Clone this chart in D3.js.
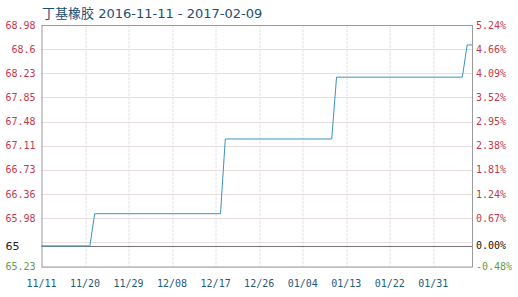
<!DOCTYPE html>
<html lang="zh">
<head>
<meta charset="UTF-8">
<title>丁基橡胶</title>
<script src="https://d3js.org/d3.v7.min.js"></script>
<style>
  body { margin: 0; background: #fff; }
  svg { display: block; }
  .tick-label { font-family: "DejaVu Sans Mono", monospace; font-size: 10px; }
</style>
</head>
<body>
<div id="chart"></div>
<script>
// price points (step changes)
const dates  = ["2016-11-11", "2016-11-21", "2016-11-22", "2016-12-18", "2016-12-19",
                "2017-01-10", "2017-01-11", "2017-02-06", "2017-02-07", "2017-02-08"];
const prices = [65.55, 65.55, 66.05, 66.05, 67.21, 67.21, 68.17, 68.17, 68.67, 68.67];

const base = 65.55;   // reference price (0.00%)
const leftTicks  = [65.23, 65.605, 65.98, 66.355, 66.73, 67.105, 67.48, 67.855, 68.23, 68.605, 68.98];
const leftLabels = ["65.23", "", "65.98", "66.36", "66.73", "67.11", "67.48", "67.85", "68.23", "68.6", "68.98"];
const rightLabels = ["-0.48%", "", "0.67%", "1.24%", "1.81%", "2.38%", "2.95%", "3.52%", "4.09%", "4.66%", "5.24%"];
const xTickDates = ["2016-11-11", "2016-11-20", "2016-11-29", "2016-12-08", "2016-12-17",
                    "2016-12-26", "2017-01-04", "2017-01-13", "2017-01-22", "2017-01-31"];
const title = "丁基橡胶 2016-11-11 - 2017-02-09";

const W = 518, H = 297;
const margin = {top: 25, right: 46, bottom: 30.5, left: 41.5};
const width = W - margin.left - margin.right,
      height = H - margin.top - margin.bottom;

const parse = d3.timeParse("%Y-%m-%d");
const fmt = d3.timeFormat("%m/%d");
const data = dates.map((d, i) => ({date: parse(d), price: prices[i]}));

const svg = d3.select("#chart").append("svg")
    .attr("width", W).attr("height", H);

svg.append("text")
    .attr("x", 42).attr("y", 18)
    .attr("fill", "#1d4f73")
    .style("font-family", "'DejaVu Sans', 'Noto Sans CJK SC', sans-serif")
    .style("font-size", "13px")
    .text(title);

const g = svg.append("g").attr("transform", `translate(${margin.left},${margin.top})`);

const x = d3.scaleTime()
    .domain([parse("2016-11-11"), parse("2017-02-08")])
    .range([0, width]);
const y = d3.scaleLinear().domain([65.23, 68.98]).range([height, 0]);

// horizontal grid
g.selectAll(".hgrid").data(leftTicks).join("line")
    .attr("x1", 0).attr("x2", width)
    .attr("y1", d => Math.round(y(d)) + 0.5).attr("y2", d => Math.round(y(d)) + 0.5)
    .attr("stroke", "#eadede").attr("stroke-width", 1);

// vertical grid
g.selectAll(".vgrid").data(xTickDates.slice(1)).join("line")
    .attr("x1", d => Math.round(x(parse(d))) + 0.5).attr("x2", d => Math.round(x(parse(d))) + 0.5)
    .attr("y1", 0).attr("y2", height)
    .attr("stroke", "#e2e2e2").attr("stroke-width", 1)
    .attr("stroke-dasharray", "3,1");

// frame
g.append("rect").attr("x", 0.5).attr("y", 0.5)
    .attr("width", width).attr("height", height)
    .attr("fill", "none").attr("stroke", "#9a9a9a");

// baseline (0%)
g.append("line")
    .attr("x1", 0).attr("x2", width)
    .attr("y1", Math.round(y(base)) + 0.5).attr("y2", Math.round(y(base)) + 0.5)
    .attr("stroke", "#777");

// price line
g.append("path").datum(data)
    .attr("fill", "none")
    .attr("stroke", "#3a93c2")
    .attr("stroke-width", 1)
    .attr("d", d3.line().x(d => x(d.date)).y(d => y(d.price)));

// left axis labels
const leftAxis = g.append("g").attr("class", "tick-label");
leftAxis.selectAll("text").data(leftTicks).join("text")
    .attr("x", -6).attr("y", d => y(d) + 3.5)
    .attr("text-anchor", "end")
    .attr("fill", d => d < base ? "#5e9c4c" : "#c0394f")
    .text((d, i) => leftLabels[i]);
leftAxis.append("text")
    .attr("x", -36).attr("y", y(base) + 4)
    .attr("fill", "#222")
    .style("font-family", "'DejaVu Sans', sans-serif")
    .style("font-size", "11px")
    .text("65");

// right axis labels
const rightAxis = g.append("g").attr("class", "tick-label");
rightAxis.selectAll("text").data(leftTicks).join("text")
    .attr("x", width + 4).attr("y", d => y(d) + 3.5)
    .attr("fill", d => d < base ? "#5e9c4c" : "#c0394f")
    .text((d, i) => rightLabels[i]);
rightAxis.append("text")
    .attr("x", width + 4).attr("y", y(base) + 3.5)
    .attr("fill", "#111")
    .text("0.00%");

// x axis labels
g.append("g").attr("class", "tick-label")
    .selectAll("text").data(xTickDates).join("text")
    .attr("x", d => x(parse(d)))
    .attr("y", height + 20)
    .attr("text-anchor", "middle")
    .attr("fill", "#1f5a7c")
    .text(d => fmt(parse(d)));
</script>
</body>
</html>
